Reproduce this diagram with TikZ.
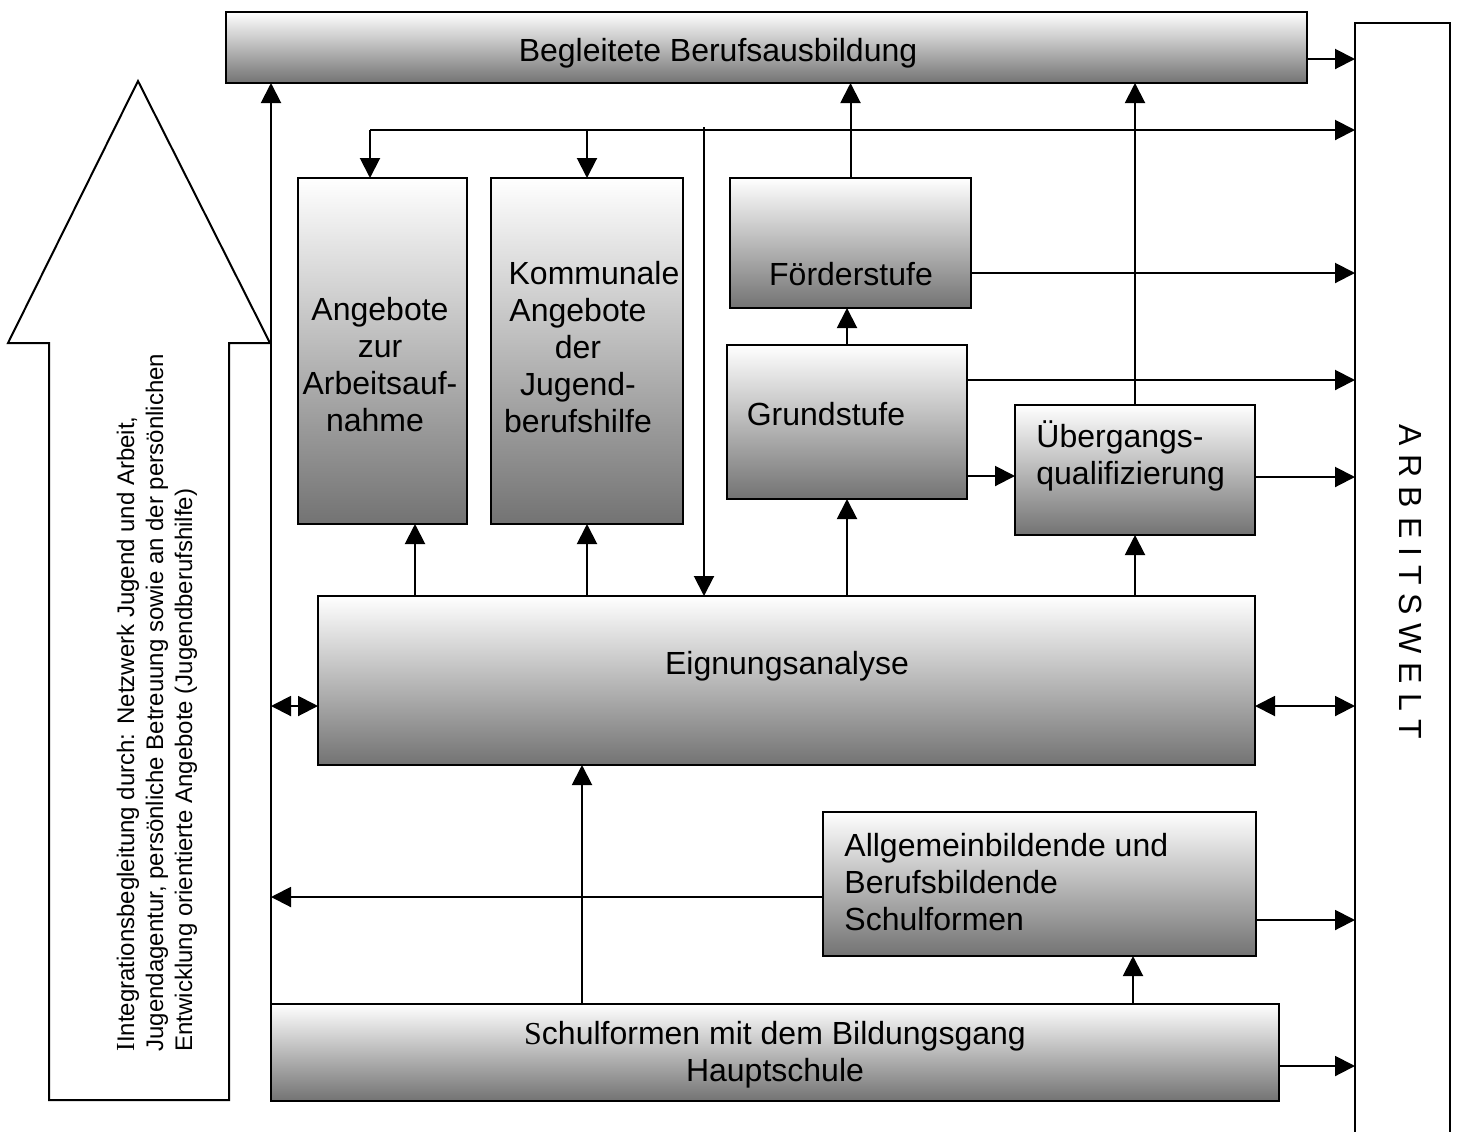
\documentclass[tikz,border=0pt]{standalone}
\usepackage{fontspec}
\setmainfont{Liberation Sans}
\newfontfamily\timesf{Liberation Serif}
\usetikzlibrary{arrows.meta}
\begin{document}
\begin{tikzpicture}[x=0.5pt,y=-0.5pt,
  gbox/.style={draw=black, line width=1pt, top color=white, bottom color=black!55, inner sep=0pt, outer sep=0pt},
  wbox/.style={draw=black, line width=1pt, fill=white, inner sep=0pt, outer sep=0pt},
  lbl/.style={inner sep=0pt, font=\fontsize{16}{18.5}\selectfont},
  arr/.style={line width=1pt, -{Triangle[length=10pt,width=10pt]}},
  darr/.style={line width=1pt, {Triangle[length=10pt,width=10pt]}-{Triangle[length=10pt,width=10pt]}},
]
\useasboundingbox (0,0) rectangle (1457,1131);
\clip (0,0) rectangle (1457,1131);

% big left arrow
\draw[line width=1pt, fill=white] (49,1100) -- (49,343) -- (8,343) -- (138,81) -- (270,343) -- (229,343) -- (229,1100) -- cycle;
\node[inner sep=0pt, rotate=90, anchor=west, align=left, font=\fontsize{12}{14.5}\selectfont] (intext) at (157,1052)
 {{\timesf\fontsize{13}{14.5}\selectfont I}Integrationsbegleitung durch: Netzwerk Jugend und Arbeit,\\
  Jugendagentur, persönliche Betreuung sowie an der persönlichen\\
  Entwicklung orientierte Angebote (Jugendberufshilfe)};

% boxes
\node[gbox, minimum width=540.5pt, minimum height=35.5pt] (beg) at (766.5,47.5) {};
\node[gbox, minimum width=84.5pt, minimum height=173pt] (ang) at (382.5,351) {};
\node[gbox, minimum width=96pt, minimum height=173pt] (kom) at (587,351) {};
\node[gbox, minimum width=120.5pt, minimum height=65pt] (foe) at (850.5,243) {};
\node[gbox, minimum width=120pt, minimum height=77pt] (gru) at (847,422) {};
\node[gbox, minimum width=120pt, minimum height=65pt] (ueb) at (1135,470) {};
\node[gbox, minimum width=468.5pt, minimum height=84.5pt] (eig) at (786.5,680.5) {};
\node[gbox, minimum width=216.5pt, minimum height=72pt] (all) at (1039.5,884) {};
\node[gbox, minimum width=504pt, minimum height=48.5pt] (hau) at (775,1052.5) {};
\node[wbox, minimum width=47.5pt, minimum height=558.5pt] (arb) at (1402.5,581.5) {};

% labels
\node[lbl] (begt) at (718,53) {Begleitete Berufsausbildung};
\node[lbl, align=center] (angt) at (380,365) {Angebote\\zur\hspace*{7pt}\\Arbeitsauf-\\nahme\hspace*{5pt}};
\node[lbl, align=center] (komt) at (578,347) {\hspace*{16pt}Kommunale\\Angebote\\der\hspace*{7pt}\\Jugend-\hspace*{5pt}\\berufshilfe};
\node[lbl] (foet) at (851,274) {Förderstufe};
\node[lbl] (grut) at (826,414) {Grundstufe};
\node[lbl, align=left, anchor=west] (uebt) at (1036,456) {Übergangs-\\qualifizierung};
\node[lbl] (eigt) at (787,666) {Eignungsanalyse};
\node[lbl, align=left, anchor=west] (allt) at (844,882) {Allgemeinbildende und\\Berufsbildende\\Schulformen};
\node[lbl, align=center] (haut) at (775,1055) {{\timesf S}chulformen mit dem Bildungsgang\\Hauptschule};
\node[lbl, rotate=-90] (arbt) at (1411,582) {A R B E I T S W E L T};

% connectors
\coordinate (tl) at (370,130);
\coordinate (vt) at (704,127);
\draw[arr] (beg.east |- 0,59) -- (arb.west |- 0,59);
\draw[arr] (hau.north west) -- (hau.north west |- beg.south);
\draw[arr] (tl) -- (arb.west |- tl);
\draw[arr] (tl) -- (tl |- ang.north);
\draw[arr] (kom.north |- tl) -- (kom.north);
\draw[arr] (vt) -- (vt |- eig.north);
\draw[arr] (foe.north) -- (foe.north |- beg.south);
\draw[arr] (ueb.north) -- (ueb.north |- beg.south);
\draw[arr] (foe.east |- 0,273) -- (arb.west |- 0,273);
\draw[arr] (gru.north) -- (gru.north |- foe.south);
\draw[arr] (gru.east |- 0,380) -- (arb.west |- 0,380);
\draw[arr] (gru.east |- 0,476) -- (ueb.west |- 0,476);
\draw[arr] (ueb.east |- 0,477) -- (arb.west |- 0,477);
\draw[arr] (gru.south |- eig.north) -- (gru.south);
\draw[arr] (ueb.south |- eig.north) -- (ueb.south);
\draw[arr] (eig.north -| 415,0) -- (ang.south -| 415,0);
\draw[arr] (kom.south |- eig.north) -- (kom.south);
\draw[darr] (eig.west |- 0,706) -- (hau.north west |- 0,706);
\draw[darr] (eig.east |- 0,706) -- (arb.west |- 0,706);
\draw[arr] (hau.north -| 582,0) -- (eig.south -| 582,0);
\draw[arr] (all.west |- 0,897) -- (hau.north west |- 0,897);
\draw[arr] (all.east |- 0,920) -- (arb.west |- 0,920);
\draw[arr] (hau.north -| 1133,0) -- (all.south -| 1133,0);
\draw[arr] (hau.east |- 0,1066) -- (arb.west |- 0,1066);
\end{tikzpicture}
\end{document}
